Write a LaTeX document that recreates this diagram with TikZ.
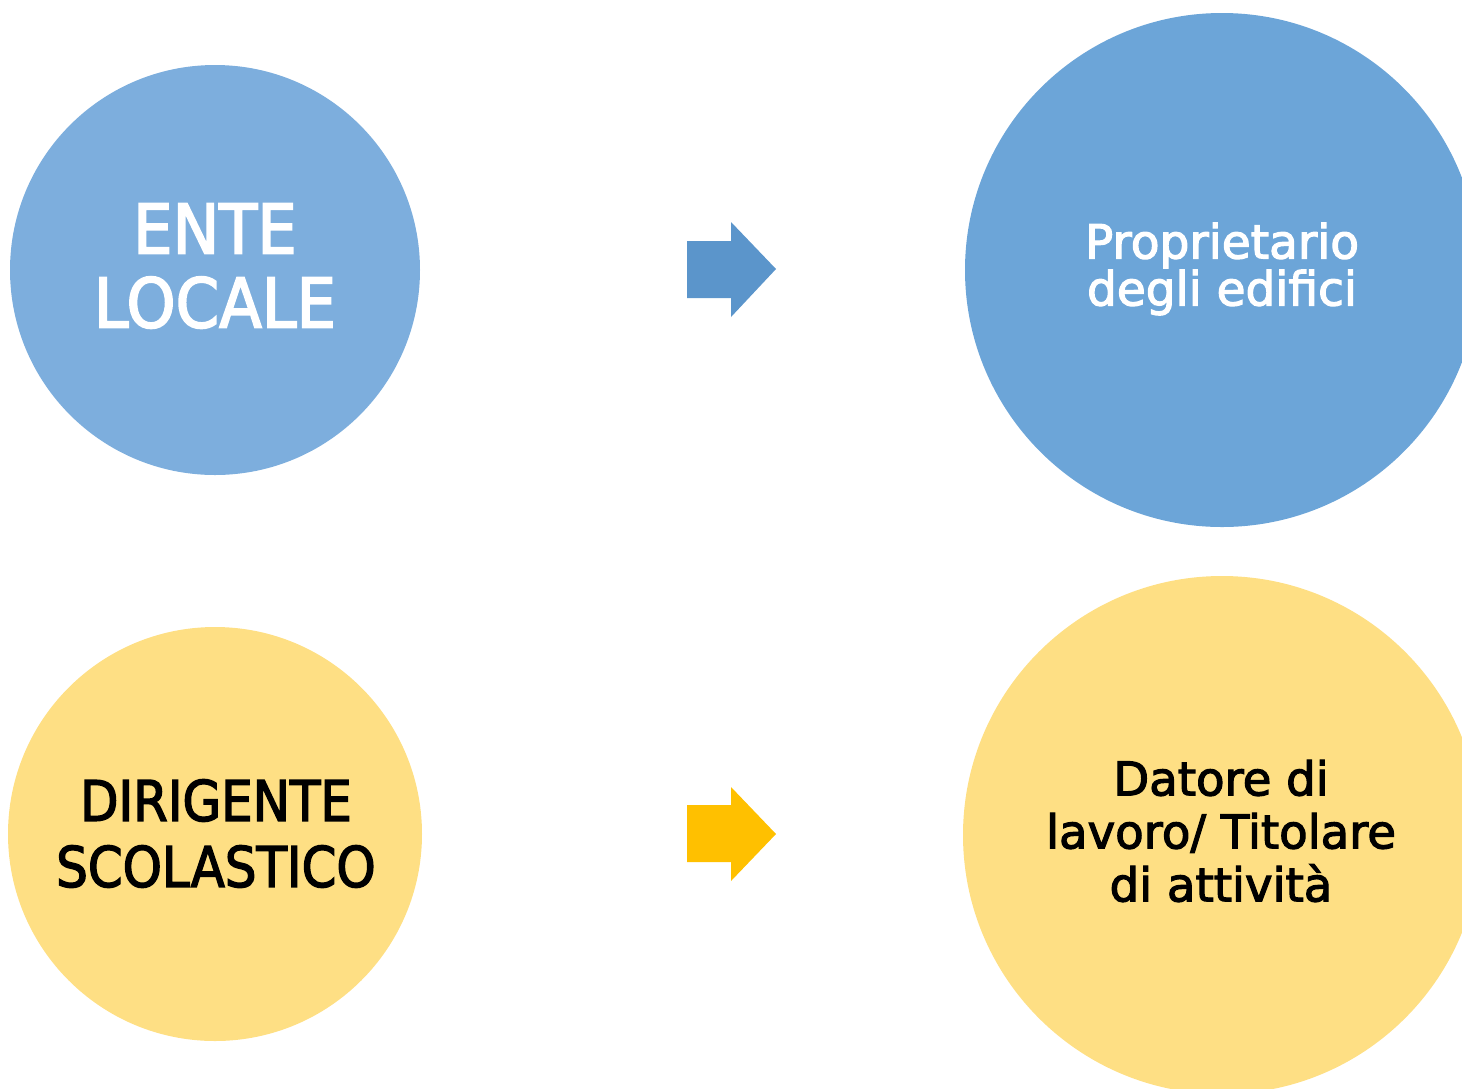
\documentclass[tikz,border=0pt]{standalone}
\usepackage{fontspec}
\setmainfont{DejaVu Sans}
\newfontfamily\bodyfont[FakeBold=2.5]{DejaVu Sans}
\newfontfamily\capsA[FakeStretch=0.91,FakeBold=2.5]{DejaVu Sans}
\newfontfamily\capsB[FakeStretch=0.89,FakeBold=2.5]{DejaVu Sans}
\definecolor{blueL}{RGB}{125,174,221}
\definecolor{blueR}{RGB}{108,165,216}
\definecolor{blueA}{RGB}{91,149,203}
\definecolor{yel}{RGB}{254,223,132}
\definecolor{yelA}{RGB}{255,192,0}
\tikzset{
  disc/.style={circle, inner sep=0pt, draw=none},
  lbl/.style={inner sep=0pt, align=center, anchor=center},
}
\begin{document}
\begin{tikzpicture}[x=1pt,y=-1pt]
\useasboundingbox (0,0) rectangle (1462,1088);
\clip (0,0) rectangle (1462,1088);
% circles
\node[disc, fill=blueL, minimum size=410pt] (c1) at (215,270) {};
\node[disc, fill=blueR, minimum size=514pt] (c2) at (1222,270) {};
\node[disc, fill=yel, minimum size=414pt] (c3) at (215,834) {};
\node[disc, fill=yel, minimum size=518pt] (c4) at (1222,835) {};
% texts
\node[lbl, text=white, font=\capsA\fontsize{68.6}{74}\selectfont] (t1) at (215,266) {ENTE\\LOCALE};
\node[lbl, text=white, font=\bodyfont\fontsize{47}{47}\selectfont] (t2) at (1222,269) {Proprietario\\degli edifici};
\node[lbl, text=black, font=\capsB\fontsize{56}{66}\selectfont] (t3) at (216,833.5) {DIRIGENTE\\SCOLASTICO};
\node[lbl, text=black, font=\bodyfont\fontsize{46.6}{53}\selectfont] (t4) at (1221,831) {Datore di\\lavoro/ Titolare\\di attività};
% block arrows
\fill[blueA] (687,241) -- (731,241) -- (731,222) -- (776,269) -- (731,317) -- (731,298) -- (687,298) -- cycle;
\fill[yelA] (687,805) -- (731,805) -- (731,787) -- (776,834) -- (731,881) -- (731,862) -- (687,862) -- cycle;
\end{tikzpicture}
\end{document}
